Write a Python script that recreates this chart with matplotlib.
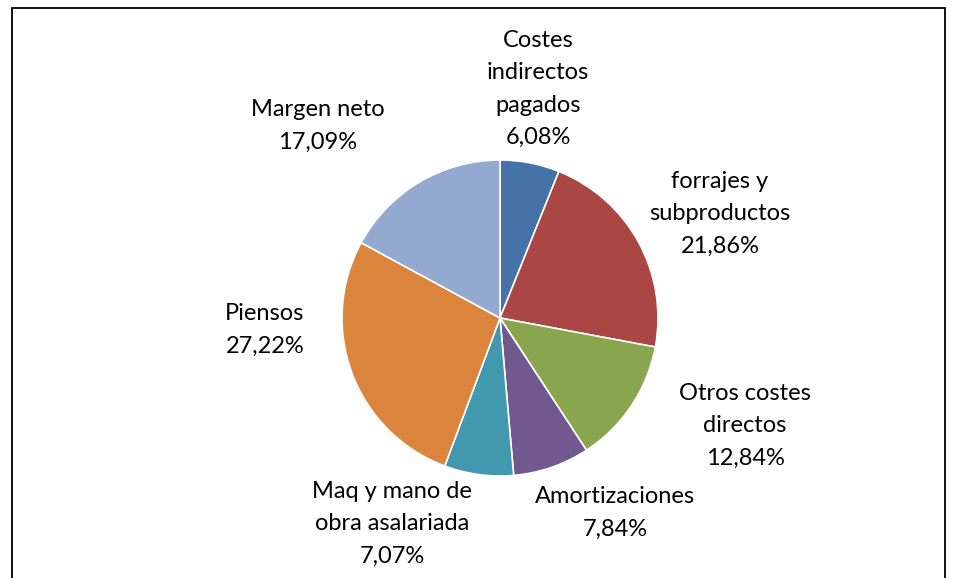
import matplotlib
matplotlib.use("Agg")
import matplotlib.pyplot as plt

plt.rcParams['font.family'] = ['Lato', 'DejaVu Sans']

categories = ["Costes\nindirectos\npagados", "forrajes y\nsubproductos", "Otros costes\ndirectos",
              "Amortizaciones", "Maq y mano de\nobra asalariada", "Piensos", "Margen neto"]
values = [6.08, 21.86, 12.84, 7.84, 7.07, 27.22, 17.09]
pct_labels = ["6,08%", "21,86%", "12,84%", "7,84%", "7,07%", "27,22%", "17,09%"]
colors = ["#4572A7", "#AA4643", "#89A54E", "#71588F", "#4198AF", "#DB843D", "#93A9CF"]

W, H = 957, 578
fig = plt.figure(figsize=(W / 100, H / 100), dpi=100)

# frame border
border = plt.Rectangle((12 / W, -0.05), (945 - 12) / W, 1.05 - 8 / H,
                       transform=fig.transFigure, fill=False, edgecolor="black", linewidth=1.3)
fig.patches.append(border)

cx, cy, r = 500, 318, 158
ax = fig.add_axes([(cx - r) / W, (H - cy - r) / H, 2 * r / W, 2 * r / H])
ax.pie(values, colors=colors, startangle=90, counterclock=False, radius=1,
       wedgeprops=dict(edgecolor="white", linewidth=1.2))
ax.set_xlim(-1, 1)
ax.set_ylim(-1, 1)
ax.set_aspect("auto")
ax.axis("off")

# label centres in pixels (x, y-centre of block)
label_pos = [(538, 89), (720, 214), (745, 426), (615, 513), (392, 524), (265, 330), (318, 126)]
for cat, pct, (px, py) in zip(categories, pct_labels, label_pos):
    fig.text(px / W, 1 - py / H, cat + "\n" + pct, ha="center", va="center",
             fontsize=17, linespacing=1.68, color="black")

fig.savefig("out.png", dpi=100)
